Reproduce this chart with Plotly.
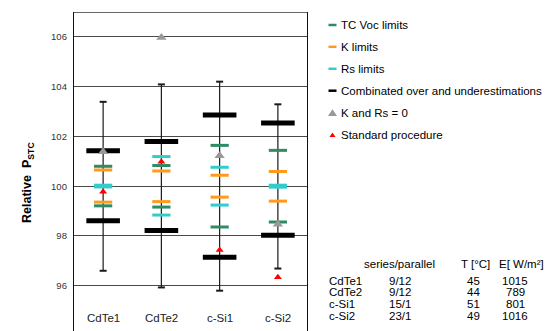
import plotly.graph_objects as go

# Modules and relative STC power estimates (%)
categories = ["CdTe1", "CdTe2", "c-Si1", "c-Si2"]
tc_voc_hi = [100.80, 100.83, 101.64, 101.44]
tc_voc_lo = [99.21, 99.16, 98.36, 98.56]
k_hi = [100.65, 100.61, 100.44, 100.59]
k_lo = [99.36, 99.38, 99.56, 99.40]
rs_hi = [100.04, 101.19, 100.76, 100.04]
rs_lo = [99.97, 98.84, 99.24, 99.96]
comb_hi = [101.42, 101.80, 102.86, 102.54]
comb_lo = [98.61, 98.22, 97.14, 98.03]
range_hi = [103.39, 104.09, 104.20, 103.29]
range_lo = [96.60, 95.93, 95.80, 96.69]
k_rs_zero = [101.38, 105.98, 101.22, 98.47]
standard = [99.78, 100.98, 97.44, 96.34]

y_ticks = [96, 98, 100, 102, 104, 106]

# Measurement conditions table
series_parallel = ["9/12", "9/12", "15/1", "23/1"]
temps = [45, 44, 51, 49]
irradiance = [1015, 789, 801, 1016]
table_headers = ["series/parallel", "T [°C]", "E[ W/m²]"]

legend_names = ["TC Voc limits", "K limits", "Rs limits",
                "Combinated over and underestimations", "K and Rs = 0",
                "Standard procedure"]

GREEN = "#2e8b64"
ORANGE = "#ff9a1a"
CYAN = "#33cccc"
GRAY = "#999999"
RED = "#ff0000"
FONT = "Liberation Sans, Arial, sans-serif"

W, H = 557, 331
idx = list(range(len(categories)))

fig = go.Figure()

# whiskers: full range of estimates
wx, wy = [], []
for i in idx:
    wx += [i, i, None]
    wy += [range_lo[i], range_hi[i], None]
fig.add_trace(go.Scatter(x=wx, y=wy, mode="lines",
                         line=dict(color="#1a1a1a", width=1.2),
                         hoverinfo="skip", showlegend=False))
fig.add_trace(go.Scatter(x=idx + idx, y=range_hi + range_lo, mode="markers",
                         marker=dict(symbol="line-ew", size=5,
                                     line=dict(color="#1a1a1a", width=2)),
                         hoverinfo="skip", showlegend=False))


def dashes(hi, lo, color, size, width, name):
    fig.add_trace(go.Scatter(
        x=idx + idx, y=hi + lo, mode="markers", name=name, showlegend=False,
        marker=dict(symbol="line-ew", size=size,
                    line=dict(color=color, width=width))))


dashes(comb_hi, comb_lo, "#000000", 24, 5, legend_names[3])
dashes(tc_voc_hi, tc_voc_lo, GREEN, 13, 3, legend_names[0])
dashes(k_hi, k_lo, ORANGE, 13, 3, legend_names[1])
dashes(rs_hi, rs_lo, CYAN, 13, 3, legend_names[2])

fig.add_trace(go.Scatter(x=idx, y=k_rs_zero, mode="markers",
                         name=legend_names[4], showlegend=False,
                         marker=dict(symbol="triangle-up", size=9, color=GRAY)))
fig.add_trace(go.Scatter(x=idx, y=standard, mode="markers",
                         name=legend_names[5], showlegend=False,
                         marker=dict(symbol="triangle-up", size=7, color=RED)))


def px(x):
    return x / W


def py(y):
    return 1 - y / H


def label(x, y, text, xanchor="center", xref="paper", size=11.5, color="#000"):
    return dict(x=x, y=y, xref=xref, yref="paper", text=text,
                xanchor=xanchor, yanchor="middle", showarrow=False,
                font=dict(size=size, color=color))


annotations = []
shapes = []

# category labels inside the frame
for i, c in enumerate(categories):
    annotations.append(label(i, py(318), c, xref="x", color="#222"))

# y-axis title
title = label(px(28), py(183), "<b>Relative  P<sub>STC</sub></b>", size=12.5)
title["textangle"] = -90
annotations.append(title)

# legend
leg_y = [25, 46.8, 68.8, 90.7, 113, 135]
leg_colors = [GREEN, ORANGE, CYAN, "#000000"]
for k, name in enumerate(legend_names):
    annotations.append(label(px(339), py(leg_y[k]), name, xanchor="left"))
for k, col in enumerate(leg_colors):
    shapes.append(dict(type="line", xref="paper", yref="paper",
                       x0=px(328.5), x1=px(336.5), y0=py(leg_y[k]), y1=py(leg_y[k]),
                       line=dict(color=col, width=2.5)))
for k, (col, r) in zip([4, 5], [(GRAY, 4.5), (RED, 3)]):
    shapes.append(dict(type="path", xref="paper", yref="paper",
                       xsizemode="pixel", ysizemode="pixel",
                       xanchor=px(332.5), yanchor=py(leg_y[k]),
                       path=f"M{-r},{-r*0.65} L{r},{-r*0.65} L0,{r*0.85} Z",
                       fillcolor=col, line=dict(width=0)))

# conditions table
col_x = [400, 473.5, 515]
head_x = [399, 475.5, 521]
for j, h in enumerate(table_headers):
    annotations.append(label(px(head_x[j]), py(264.3), h))
row_y = [280.7, 292.4, 304.1, 315.8]
for i, c in enumerate(categories):
    yy = py(row_y[i])
    annotations.append(label(px(326.5), yy, c, xanchor="left"))
    for j, v in enumerate([series_parallel[i], temps[i], irradiance[i]]):
        annotations.append(label(px(col_x[j]), yy, str(v)))

# top edge of the frame
shapes.append(dict(type="line", xref="paper", yref="y", x0=px(74), x1=px(307),
                   y0=107, y1=107, line=dict(color="#333", width=1.3)))

fig.update_layout(
    width=W, height=H, autosize=False,
    margin=dict(l=0, r=0, t=0, b=0),
    paper_bgcolor="white", plot_bgcolor="white",
    font=dict(family=FONT),
    showlegend=False,
    annotations=annotations, shapes=shapes,
    xaxis=dict(domain=[px(74), px(307)], range=[-0.5, 3.5],
               showgrid=False, zeroline=False, showticklabels=False,
               showline=False, fixedrange=True),
    yaxis=dict(domain=[0, py(12)], range=[94.18, 107],
               tickvals=y_ticks, ticksuffix="%",
               tickfont=dict(size=9.5, color="#333"),
               showgrid=True, gridcolor="#4a4a4a", gridwidth=1.2,
               zeroline=False, showline=True, linecolor="#111", linewidth=1.3,
               mirror=True, ticks="", ticklabelstandoff=4),
)

fig.write_html("out.html")
